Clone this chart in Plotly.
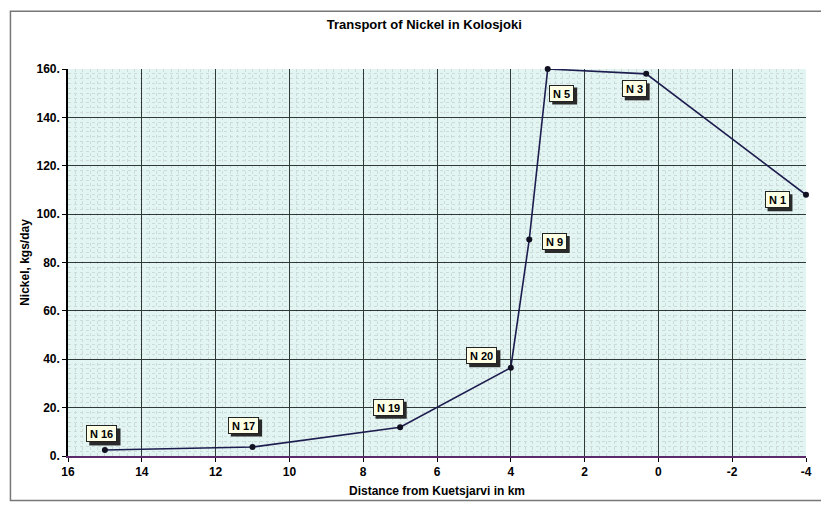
import plotly.graph_objects as go

# data
stations = ["N 16", "N 17", "N 19", "N 20", "N 9", "N 5", "N 3", "N 1"]
distance_km = [15.0, 11.0, 7.0, 4.0, 3.5, 3.0, 0.33, -4.0]
nickel = [2.5, 3.7, 11.9, 36.5, 89.5, 160.0, 158.0, 108.0]

x_ticks = [16, 14, 12, 10, 8, 6, 4, 2, 0, -2, -4]
x_ticktext = [f"<b>{v}</b>" for v in x_ticks]
y_ticks = [0, 20, 40, 60, 80, 100, 120, 140, 160]
y_ticktext = [f"<b>{v}.</b>" for v in y_ticks]

# label offsets in pixels (dx, dy) from each point
label_shift = [(-3, 16), (-9, 22), (-12, 20), (-29, 12), (25, -2), (14, -24), (-12, -15), (-29, -5)]

FONT = "Liberation Sans, Arial"
LINE = "#1c1c4e"

fig = go.Figure(
    go.Scatter(
        x=distance_km, y=nickel, mode="lines+markers",
        line=dict(color=LINE, width=1.6),
        marker=dict(color="#111122", size=6),
        cliponaxis=False,
        hoverinfo="skip",
    )
)

for name, xv, yv, (dx, dy) in zip(stations, distance_km, nickel, label_shift):
    w = 6.3 * len(name) + 2
    h = 13
    # drop shadow of the label box
    fig.add_shape(
        type="rect", xref="x", yref="y", xsizemode="pixel", ysizemode="pixel",
        xanchor=xv, yanchor=yv,
        x0=dx - w / 2 - 2 + 3, x1=dx + w / 2 + 2 + 3,
        y0=dy - h / 2 - 2 - 3, y1=dy + h / 2 + 2 - 3,
        fillcolor="#2a2a2a", line=dict(width=0), layer="above",
    )
    fig.add_annotation(
        x=xv, y=yv, text=f"<b>{name}</b>", showarrow=False,
        xshift=dx, yshift=dy, width=w, height=h,
        font=dict(family=FONT, size=11, color="black"),
        bgcolor="#ffffe6", borderpad=1, borderwidth=1, bordercolor="#222222",
    )

fig.update_layout(
    width=813, height=497,
    paper_bgcolor="white",
    plot_bgcolor="#e3f5f3",
    margin=dict(l=60, r=9, t=61, b=46),
    showlegend=False,
    title=dict(
        text="<b>Transport of Nickel in Kolosjoki</b>",
        x=0.512, xanchor="center", y=0.967, yanchor="middle",
        font=dict(family=FONT, size=13, color="black"),
    ),
    font=dict(family=FONT, color="black"),
    xaxis=dict(
        range=[16, -4], tickmode="array", tickvals=x_ticks, ticktext=x_ticktext,
        ticks="outside", ticklen=4, tickcolor="black",
        tickfont=dict(size=12), ticklabeloverflow="allow",
        showgrid=True, gridcolor="#2f3a36", gridwidth=1,
        minor=dict(dtick=0.2, showgrid=True, gridcolor="#cddbd8", gridwidth=1, griddash="dot"),
        showline=True, linecolor="#5a2a6a", linewidth=1.5,
        zeroline=False,
        title=dict(text="<b>Distance from Kuetsjarvi in km</b>", standoff=8,
                   font=dict(size=12)),
    ),
    yaxis=dict(
        range=[0, 160], tickmode="array", tickvals=y_ticks, ticktext=y_ticktext,
        ticks="outside", ticklen=4, tickcolor="black",
        tickfont=dict(size=12),
        showgrid=True, gridcolor="#2f3a36", gridwidth=1,
        minor=dict(dtick=2, showgrid=True, gridcolor="#cddbd8", gridwidth=1, griddash="dot"),
        showline=True, linecolor="black", linewidth=1.5,
        zeroline=False,
        title=dict(text="<b>Nickel, kgs/day</b>", standoff=4,
                   font=dict(size=12)),
    ),
)

# outer frame of the chart
fig.add_shape(type="rect", xref="paper", yref="paper",
              x0=-0.078, x1=1.03, y0=-0.115, y1=1.149,
              line=dict(color="#777777", width=1.5))

fig.write_html("out.html")
